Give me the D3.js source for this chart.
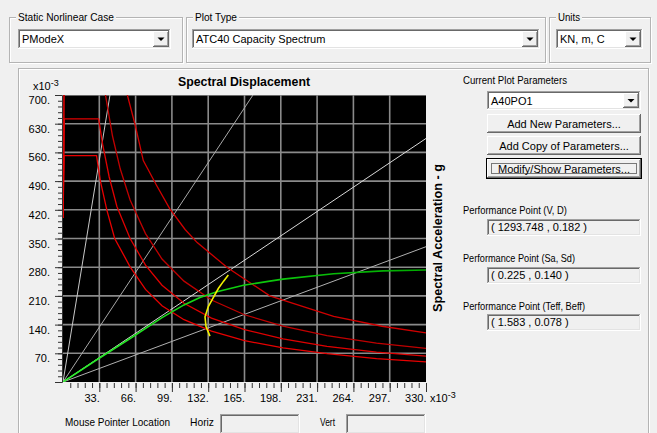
<!DOCTYPE html>
<html>
<head>
<meta charset="utf-8">
<script src="https://cdn.jsdelivr.net/npm/d3@7"></script>
<style>
  body { margin: 0; background: #f0f0f0; }
  svg { display: block; font-family: "Liberation Sans", Arial, sans-serif; }
</style>
</head>
<body>
<svg id="chart" width="657" height="433"></svg>
<script>
// values are Sd (x10-3 m) and Sa (x10-3 g)
const sdTicks = [33, 66, 99, 132, 165, 198, 231, 264, 297, 330];
const sdLabels = ["33.", "66.", "99.", "132.", "165.", "198.", "231.", "264.", "297.", "330."];
const saTicks = [70, 140, 210, 280, 350, 420, 490, 560, 630, 700];
const saLabels = ["70.", "140.", "210.", "280.", "350.", "420.", "490.", "560.", "630.", "700."];

// demand spectra (red), one per damping level
const demand1 = [[0, 400], [1.6, 1000], [40, 1000], [58.5, 700], [65.5, 628], [73, 540], [85, 480], [97, 423], [111, 372], [122, 340], [149, 280], [188, 210], [246, 160], [290, 136], [330, 120]];
const demand2 = [[0, 400], [1.4, 800], [34, 800], [38.6, 700], [45, 600], [52, 520], [61, 444], [75, 362], [90, 300], [110, 246], [135, 200], [165, 164], [200, 136], [240, 113], [285, 95], [330, 82]];
const demand3 = [[0, 400], [1.2, 642], [32.4, 642], [36, 580], [42, 500], [49, 428], [61, 350], [75, 285], [90, 236], [110, 192], [135, 156], [165, 128], [200, 105], [240, 87], [285, 73], [330, 63]];
const demand4 = [[0, 400], [1.0, 552], [30.5, 552], [34, 490], [40, 418], [47, 350], [61, 281], [75, 226], [90, 186], [110, 152], [135, 124], [165, 101], [200, 83], [240, 69], [285, 57], [330, 49]];

// constant period lines
const periodLines = [
  [[0, 0], [42.7, 700]],
  [[0, 0], [172.7, 700]],
  [[0, 0], [330, 594]],
  [[0, 0], [330, 330]]
];

// capacity curve (green) and single demand spectrum (yellow)
const capacity = [[0, 0], [30, 53], [61, 106], [90, 157], [110, 188], [124.5, 206], [140, 220], [152, 228], [164, 236], [188, 246], [200, 251], [246, 264], [291, 271], [330, 273]];
const singleDemand = [[133.6, 112], [130, 135], [129.1, 159], [132.1, 184], [136.5, 205], [141.2, 228], [146, 246], [150.3, 261]];

const svg = d3.select("#chart");
svg.append("rect").attr("width", 657).attr("height", 433).attr("fill", "#f0f0f0");

function label(x, y, s, o = {}) {
  const t = svg.append("text")
    .attr("x", x).attr("y", y)
    .attr("font-size", o.size || 11)
    .attr("fill", o.fill || "#000")
    .attr("text-anchor", o.anchor || "start")
    .text(s);
  if (o.w) t.attr("textLength", o.w).attr("lengthAdjust", "spacingAndGlyphs");
  if (o.bold) t.attr("font-weight", "bold");
  return t;
}

function edge(x1, y1, x2, y2, c) {
  svg.append("line").attr("x1", x1).attr("y1", y1).attr("x2", x2).attr("y2", y2)
    .attr("stroke", c).attr("stroke-width", 1).attr("shape-rendering", "crispEdges");
}

function sunken(x, y, w, h, fill) {
  svg.append("rect").attr("x", x).attr("y", y).attr("width", w).attr("height", h).attr("fill", fill);
  edge(x, y + 0.5, x + w, y + 0.5, "#a0a0a0");
  edge(x + 0.5, y, x + 0.5, y + h, "#a0a0a0");
  edge(x, y + h - 0.5, x + w, y + h - 0.5, "#ffffff");
  edge(x + w - 0.5, y, x + w - 0.5, y + h, "#ffffff");
  edge(x + 1, y + 1.5, x + w - 1, y + 1.5, "#696969");
  edge(x + 1.5, y + 1, x + 1.5, y + h - 1, "#696969");
  edge(x + 1, y + h - 1.5, x + w - 1, y + h - 1.5, "#e3e3e3");
  edge(x + w - 1.5, y + 1, x + w - 1.5, y + h - 1, "#e3e3e3");
}

function raised(x, y, w, h) {
  svg.append("rect").attr("x", x).attr("y", y).attr("width", w).attr("height", h).attr("fill", "#f0f0f0");
  edge(x, y + 0.5, x + w, y + 0.5, "#ffffff");
  edge(x + 0.5, y, x + 0.5, y + h, "#ffffff");
  edge(x, y + h - 0.5, x + w, y + h - 0.5, "#696969");
  edge(x + w - 0.5, y, x + w - 0.5, y + h, "#696969");
  edge(x + 1, y + h - 1.5, x + w - 1, y + h - 1.5, "#a0a0a0");
  edge(x + w - 1.5, y + 1, x + w - 1.5, y + h - 1, "#a0a0a0");
}

function button(x, y, w, h, s, focused) {
  raised(x, y, w, h);
  if (focused) {
    svg.append("rect").attr("x", x - 0.5).attr("y", y - 0.5).attr("width", w + 1).attr("height", h + 1)
      .attr("fill", "none").attr("stroke", "#000");
    svg.append("rect").attr("x", x + 4.5).attr("y", y + 4.5).attr("width", w - 9).attr("height", h - 9)
      .attr("fill", "none").attr("stroke", "#000").attr("stroke-dasharray", "1,1");
  }
  label(x + w / 2, y + h / 2 + 4, s, { anchor: "middle" });
}

function combo(x, y, w, h, s) {
  sunken(x, y, w, h, "#ffffff");
  const bw = 16;
  raised(x + w - bw - 2, y + 2, bw, h - 4);
  const cx = x + w - 2 - bw / 2, cy = y + h / 2;
  svg.append("path").attr("d", `M${cx - 3.5},${cy - 1.5}L${cx + 3.5},${cy - 1.5}L${cx},${cy + 2}Z`).attr("fill", "#000");
  label(x + 4, y + h / 2 + 4, s);
}

function groupBox(x, y, w, h, s, lw) {
  svg.append("rect").attr("x", x + 1.5).attr("y", y + 1.5).attr("width", w).attr("height", h)
    .attr("fill", "none").attr("stroke", "#ffffff");
  svg.append("rect").attr("x", x + 0.5).attr("y", y + 0.5).attr("width", w).attr("height", h)
    .attr("fill", "none").attr("stroke", "#b4b4b4");
  if (s) {
    svg.append("rect").attr("x", x + 7).attr("y", y - 6).attr("width", lw + 4).attr("height", 12).attr("fill", "#f0f0f0");
    label(x + 9, y + 4, s, { w: lw });
  }
}

// top controls
groupBox(9, 17, 173, 45, "Static Norlinear Case", 96);
combo(18, 29, 153, 20, "PModeX");
groupBox(186, 17, 359, 45, "Plot Type", 42);
combo(192, 29, 348, 20, "ATC40 Capacity Spectrum");
groupBox(549, 17, 101, 45, "Units", 22);
combo(556, 29, 87, 20, "KN, m, C");

// main panel
groupBox(18, 68, 630, 380, null, 0);

// plot
const x = d3.scaleLinear().domain([0, 330]).range([63, 426]);
const y = d3.scaleLinear().domain([0, 700]).range([382, 95]);

const defs = svg.append("defs");
defs.append("clipPath").attr("id", "plotClip")
  .append("rect").attr("x", 63).attr("y", 95).attr("width", 363).attr("height", 287);
const grad = defs.append("linearGradient").attr("id", "capGrad")
  .attr("gradientUnits", "userSpaceOnUse").attr("x1", 63).attr("x2", 426).attr("y1", 0).attr("y2", 0);
grad.append("stop").attr("offset", 0).attr("stop-color", "#30f030");
grad.append("stop").attr("offset", 0.45).attr("stop-color", "#10d010");
grad.append("stop").attr("offset", 1).attr("stop-color", "#00a800");

svg.append("rect").attr("x", 63).attr("y", 95).attr("width", 363).attr("height", 287).attr("fill", "#000");

const plot = svg.append("g").attr("clip-path", "url(#plotClip)");

plot.append("g").selectAll("line").data(sdTicks.slice(0, -1)).join("line")
  .attr("x1", d => x(d)).attr("x2", d => x(d)).attr("y1", 95).attr("y2", 382)
  .attr("stroke", "#8a8a8a").attr("stroke-width", 1.6);
plot.append("g").selectAll("line").data(saTicks).join("line")
  .attr("x1", 63).attr("x2", 426).attr("y1", d => y(d)).attr("y2", d => y(d))
  .attr("stroke", "#8a8a8a").attr("stroke-width", 1.6);

const line = d3.line().x(d => x(d[0])).y(d => y(d[1]));

const greys = ["#c8c8c8", "#a8a8a8", "#d8d8d8", "#b0b0b0"];
periodLines.forEach((p, i) => {
  plot.append("path").datum(p).attr("d", line).attr("fill", "none")
    .attr("stroke", greys[i]).attr("stroke-width", 1);
});

[demand1, demand2, demand3, demand4].forEach((d, i) => {
  plot.append("path").datum(d).attr("d", line).attr("fill", "none")
    .attr("stroke", ["#d00000", "#c00000", "#e00000", "#e80000"][i]).attr("stroke-width", 1.3);
});

plot.append("path").datum(capacity).attr("d", line).attr("fill", "none")
  .attr("stroke", "url(#capGrad)").attr("stroke-width", 1.6);
plot.append("path").datum(singleDemand).attr("d", line).attr("fill", "none")
  .attr("stroke", "#f0f000").attr("stroke-width", 1.6);

// axes
const xAxis = svg.append("g").attr("transform", "translate(0,383)")
  .call(d3.axisBottom(x).tickValues(sdTicks).tickSize(9).tickFormat((d, i) => sdLabels[i]));
xAxis.select(".domain").remove();
xAxis.selectAll("line").attr("stroke", "#333");
xAxis.selectAll("text").attr("text-anchor", "end").attr("x", 0).attr("y", 11)
  .attr("font-size", 11).attr("font-family", "Liberation Sans, Arial, sans-serif").attr("fill", "#000");

const xMinor = svg.append("g").attr("transform", "translate(0,383)")
  .call(d3.axisBottom(x).tickValues(d3.range(6.6, 330, 6.6)).tickSize(5).tickFormat(""));
xMinor.select(".domain").remove();
xMinor.selectAll("line").attr("stroke", "#333");

const yAxis = svg.append("g").attr("transform", "translate(62,0)")
  .call(d3.axisLeft(y).tickValues(saTicks).tickSize(7).tickFormat((d, i) => saLabels[i]));
yAxis.select(".domain").attr("stroke", "#333");
yAxis.selectAll("line").attr("stroke", "#333");
yAxis.selectAll("text").attr("x", -12).attr("y", 5)
  .attr("font-size", 11).attr("font-family", "Liberation Sans, Arial, sans-serif").attr("fill", "#000");

const yMinor = svg.append("g").attr("transform", "translate(62,0)")
  .call(d3.axisLeft(y).tickValues(d3.range(14, 700, 14)).tickSize(4).tickFormat(""));
yMinor.select(".domain").remove();
yMinor.selectAll("line").attr("stroke", "#333");

function scaleNote(xp, yp) {
  const t = svg.append("text").attr("x", xp).attr("y", yp).attr("font-size", 11);
  t.append("tspan").text("x10");
  t.append("tspan").attr("dy", -4).attr("font-size", 9).text("-3");
}
scaleNote(33, 90);
scaleNote(430, 402);

label(244, 86, "Spectral Displacement", { anchor: "middle", bold: true, size: 12, w: 132 });
svg.append("text").attr("transform", "translate(442,238) rotate(-90)")
  .attr("text-anchor", "middle").attr("font-size", 12).attr("font-weight", "bold")
  .attr("textLength", 148).attr("lengthAdjust", "spacingAndGlyphs")
  .text("Spectral Acceleration - g");

// right side controls
label(463, 84, "Current Plot Parameters", { w: 104 });
combo(487, 91, 154, 19, "A40PO1");
button(487, 114, 154, 19, "Add New Parameters...");
button(487, 136, 154, 19, "Add Copy of Parameters...");
button(487, 159, 154, 19, "Modify/Show Parameters...", true);

label(463, 214, "Performance Point (V, D)", { w: 104 });
sunken(487, 219, 154, 17, "#f0f0f0");
label(491, 231, "( 1293.748 , 0.182 )");
label(463, 262, "Performance Point (Sa, Sd)", { w: 112 });
sunken(487, 267, 154, 17, "#f0f0f0");
label(491, 279, "( 0.225 , 0.140 )");
label(463, 310, "Performance Point (Teff, Beff)", { w: 122 });
sunken(487, 314, 154, 17, "#f0f0f0");
label(491, 326, "( 1.583 , 0.078 )");

// mouse pointer row
label(65, 426, "Mouse Pointer Location", { w: 105 });
label(190, 426, "Horiz", { w: 24 });
sunken(220, 414, 80, 20, "#f0f0f0");
label(320, 426, "Vert", { w: 15 });
sunken(346, 414, 80, 20, "#f0f0f0");
</script>
</body>
</html>
